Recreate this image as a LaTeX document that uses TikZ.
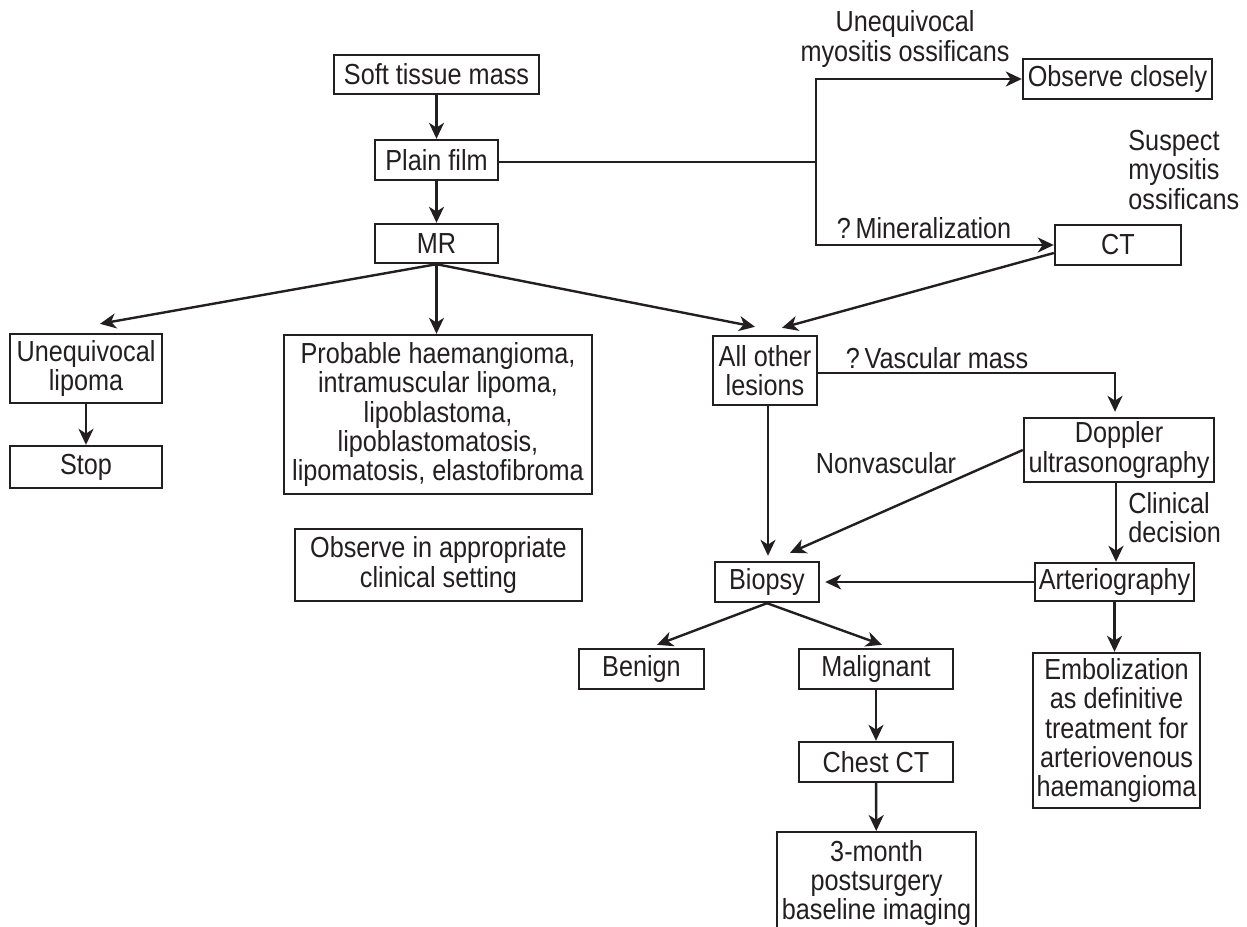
\documentclass[tikz,border=0pt]{standalone}
\usepackage{fontspec}
\setmainfont{Liberation Sans}[FakeStretch=0.87]
\usetikzlibrary{arrows.meta,calc}
\definecolor{ink}{HTML}{231F20}
\newcommand\dgfont{\fontsize{14.5pt}{14.6pt}\selectfont}
\begin{document}
\begin{tikzpicture}[x=0.5pt,y=-0.5pt,
  sz/.style 2 args={minimum width=#1*0.5pt, minimum height=#2*0.5pt},
  box/.style={draw=ink, line width=1.2pt, inner sep=0pt, align=center, font=\dgfont, text=ink},
  lbl/.style={inner sep=0pt, align=center, font=\dgfont, text=ink},
  ln/.style={draw=ink, line width=1.2pt},
  arr/.style={draw=ink, line width=1.2pt, -{Stealth[length=8pt,width=7.5pt,inset=2.4pt]}}]
\useasboundingbox (0,0) rectangle (1247,926);
\clip (0,0) rectangle (1247,926);
\fill[white] (0,0) rectangle (1247,926);

% boxes
\node[box,sz={205}{39}] (soft) at (436.5,74.5) {Soft tissue mass};
\node[box,sz={123}{40}] (plain) at (436.5,160) {Plain film};
\node[box,sz={123}{39}] (mr) at (436.5,243.5) {MR};
\node[box,sz={189}{40}] (obs) at (1117.5,79) {Observe closely};
\node[box,sz={126}{40}] (ct) at (1118,245) {CT};
\node[box,sz={152}{69}] (lip) at (86,368.5) {Unequivocal\\lipoma};
\node[box,sz={152}{42}] (stop) at (86,467) {Stop};
\node[box,sz={308}{159}] (prob) at (438,414.5) {Probable haemangioma,\\intramuscular lipoma,\\lipoblastoma,\\lipoblastomatosis,\\lipomatosis, elastofibroma};
\node[box,sz={287}{72}] (obsapp) at (438.5,565) {Observe in appropriate\\clinical setting};
\node[box,sz={104}{69}] (other) at (765,370.5) {All other\\lesions};
\node[box,sz={190}{64}] (dop) at (1119,450) {Doppler\\ultrasonography};
\node[box,sz={104}{40}] (bio) at (767,582) {Biopsy};
\node[box,sz={159}{38}] (art) at (1114.5,582) {Arteriography};
\node[box,sz={125}{40}] (ben) at (641.5,669) {Benign};
\node[box,sz={154}{40}] (mal) at (876,669) {Malignant};
\node[box,sz={154}{40}] (chest) at (876,762) {Chest CT};
\node[box,minimum width=199*0.5pt,inner ysep=4pt,anchor=north] (m3) at (876.5,831) {3-month\\postsurgery\\baseline imaging\\\mbox{}};
\node[box,sz={167}{155}] (emb) at (1116.5,730.5) {Embolization\\as definitive\\treatment for\\arteriovenous\\haemangioma};

% free labels
\node[lbl] (l1) at (905,39) {Unequivocal\\myositis ossificans};
\node[lbl,align=left,anchor=west] (l2) at (1128,170) {Suspect\\myositis\\ossificans};
\node[lbl] (l3) at (924,228) {?\,Mineralization};
\node[lbl] (l4) at (937,358) {?\,Vascular mass};
\node[lbl] (l5) at (886,463) {Nonvascular};
\node[lbl,align=left,anchor=west] (l6) at (1128,518) {Clinical\\decision};

% connectors
\draw[arr] (soft) -- (plain);
\draw[arr] (plain) -- (mr);
\coordinate (sp) at (816,162);
\draw[ln] (plain.east |- sp) -- (sp);
\draw[arr] (sp) |- (obs.west);
\draw[arr] (sp) |- (ct.west);
\draw[arr] (mr.south) -- ([xshift=7pt,yshift=4.5pt]lip.north);
\draw[arr] (mr.south) -- (mr.south |- prob.north);
\draw[arr] (mr.south) -- ([xshift=-5pt,yshift=4pt]other.north);
\draw[arr] ([yshift=-4pt]ct.west) -- ([xshift=8.5pt,yshift=3.5pt]other.north);
\draw[arr] (lip) -- (stop);
\draw[arr,shorten >=2.5pt] ([yshift=-1.25pt]other.east) -| ([xshift=-2pt]dop.north);
\draw[arr,shorten >=2.5pt] ([xshift=1.5pt]other.south) -- ([xshift=1.5pt]other.south |- bio.north);
\draw[arr] (dop.west) -- ([xshift=11.5pt,yshift=4pt]bio.north);
\draw[arr] ([xshift=-1.5pt]dop.south) -- ([xshift=-1.5pt]dop.south |- art.north);
\draw[arr,shorten >=2.5pt] (art.west) -- (art.west -| bio.east);
\draw[arr] (bio.south) -- ([xshift=7.75pt,yshift=1.5pt]ben.north);
\draw[arr] (bio.south) -- ([xshift=3pt,yshift=1.5pt]mal.north);
\draw[arr] (mal) -- (chest);
\draw[arr] (chest) -- (m3);
\draw[arr] (art.south) -- (art.south |- emb.north);
\end{tikzpicture}
\end{document}
